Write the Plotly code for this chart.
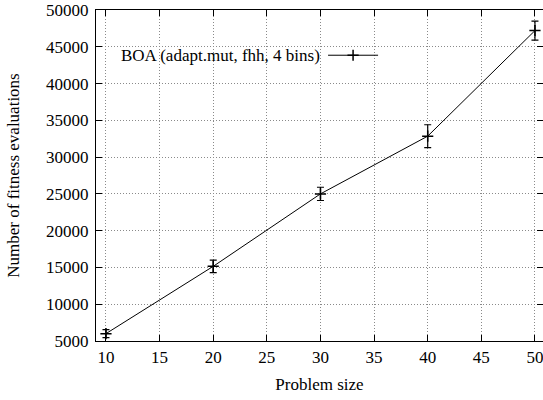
import plotly.graph_objects as go

sizes = [10, 20, 30, 40, 50]
evals = [6000, 15150, 25000, 32850, 47200]
errors = [550, 850, 900, 1550, 1300]
legend_label = "BOA (adapt.mut, fhh, 4 bins)"
x_ticks = [10, 15, 20, 25, 30, 35, 40, 45, 50]
y_ticks = [5000, 10000, 15000, 20000, 25000, 30000, 35000, 40000, 45000, 50000]

FONT = "Liberation Serif"

fig = go.Figure()
fig.add_trace(go.Scatter(
    x=sizes, y=evals, mode="lines+markers", name="",
    line=dict(color="black", width=1),
    marker=dict(symbol="cross-thin", size=8, color="black",
                line=dict(color="black", width=1.5)),
    error_y=dict(type="data", array=errors, visible=True,
                 color="black", thickness=1.2, width=3.5),
    showlegend=True,
    cliponaxis=False,
))

axis_common = dict(
    showline=True, linecolor="black", linewidth=1.2, mirror="ticks",
    ticks="inside", ticklen=6, tickcolor="black", tickwidth=1,
    showgrid=True, gridcolor="#8a8a8a", griddash="1px,2px", gridwidth=1,
    zeroline=False, automargin=False, ticklabeloverflow="allow",
    tickformat="d",
    tickfont=dict(family=FONT, size=17, color="black"),
)

fig.update_layout(
    width=543, height=400,
    margin=dict(l=96, r=0, t=10, b=59),
    paper_bgcolor="white", plot_bgcolor="white",
    font=dict(family=FONT, size=17, color="black"),
    xaxis=dict(range=[9.07, 50.75], tickvals=x_ticks,
               title=dict(text="Problem size", font=dict(family=FONT, size=17), standoff=12),
               **axis_common),
    yaxis=dict(range=[5000, 50000], tickvals=y_ticks, ticklabelstandoff=3,
               title=dict(text="Number of fitness evaluations", font=dict(family=FONT, size=17), standoff=22),
               **axis_common),
    legend=dict(x=0.508, y=0.862, xanchor="left", yanchor="middle",
                bgcolor="rgba(0,0,0,0)", borderwidth=0, itemwidth=50,
                font=dict(family=FONT, size=17)),
    annotations=[dict(text=legend_label, xref="paper", yref="paper",
                      x=0.506, y=0.862, xanchor="right", yanchor="middle",
                      showarrow=False, font=dict(family=FONT, size=17, color="black"))],
)

fig.write_html("out.html", config={"displayModeBar": False},
               post_script="document.body.style.margin='0';document.body.style.overflow='hidden';")
